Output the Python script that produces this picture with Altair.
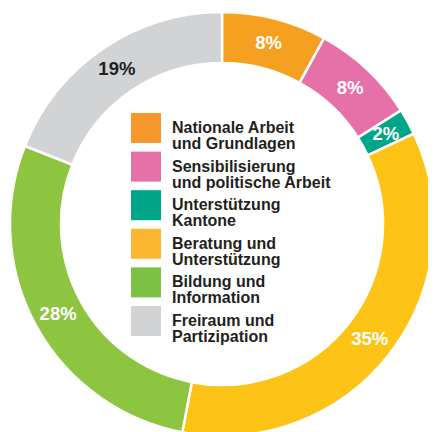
import altair as alt
import pandas as pd

categories = [
    "Nationale Arbeit\nund Grundlagen",
    "Sensibilisierung\nund politische Arbeit",
    "Unterstützung\nKantone",
    "Beratung und\nUnterstützung",
    "Bildung und\nInformation",
    "Freiraum und\nPartizipation",
]
values = [8, 8, 2, 35, 28, 19]
ring_colors = ["#F6A022", "#E671A9", "#00A688", "#FDC316", "#8EC540", "#D1D3D5"]
legend_colors = ["#F7982A", "#E671A9", "#00A688", "#FBB632", "#7BC143", "#D1D3D5"]
label_colors = ["#FFFFFF", "#FFFFFF", "#FFFFFF", "#FFFFFF", "#FFFFFF", "#231F20"]

df = pd.DataFrame({
    "cat": categories,
    "value": values,
    "order": list(range(len(values))),
    "ring": ring_colors,
    "leg": legend_colors,
    "lab": label_colors,
    "pct": [f"{v}%" for v in values],
})

CX, CY = 214, 216

base = alt.Chart(df)

arcs = base.mark_arc(outerRadius=212, innerRadius=161, stroke="white", strokeWidth=2.5).encode(
    theta=alt.Theta("value:Q", stack=True),
    order=alt.Order("order:Q"),
    color=alt.Color("ring:N", scale=None),
    x=alt.value(CX),
    y=alt.value(CY),
)

labels = base.mark_text(radius=187, font="Liberation Sans", fontWeight="bold", fontSize=18.5,
                        align="center", baseline="middle").encode(
    theta=alt.Theta("value:Q", stack=True),
    order=alt.Order("order:Q"),
    text="pct:N",
    color=alt.Color("lab:N", scale=None),
    x=alt.value(CX),
    y=alt.value(CY),
)

ysc = alt.Scale(type="point", domain=categories, range=[120, 313], padding=0)

squares = base.mark_square(size=900, opacity=1, shape="square").encode(
    x=alt.value(138),
    y=alt.Y("cat:N", scale=ysc, axis=None),
    color=alt.Color("leg:N", scale=None),
)

legtext = base.mark_text(align="left", baseline="middle", font="Liberation Sans", fontWeight="bold",
                         fontSize=16, lineHeight=16, lineBreak="\n", color="#231F20").encode(
    x=alt.value(164),
    y=alt.Y("cat:N", scale=ysc, axis=None),
    text="cat:N",
)

chart = alt.layer(arcs, labels, squares, legtext).properties(
    width=420, height=424, padding=0, autosize="none"
).configure_view(stroke=None)

chart.save("out.html", embed_options={"renderer": "svg", "actions": False})
